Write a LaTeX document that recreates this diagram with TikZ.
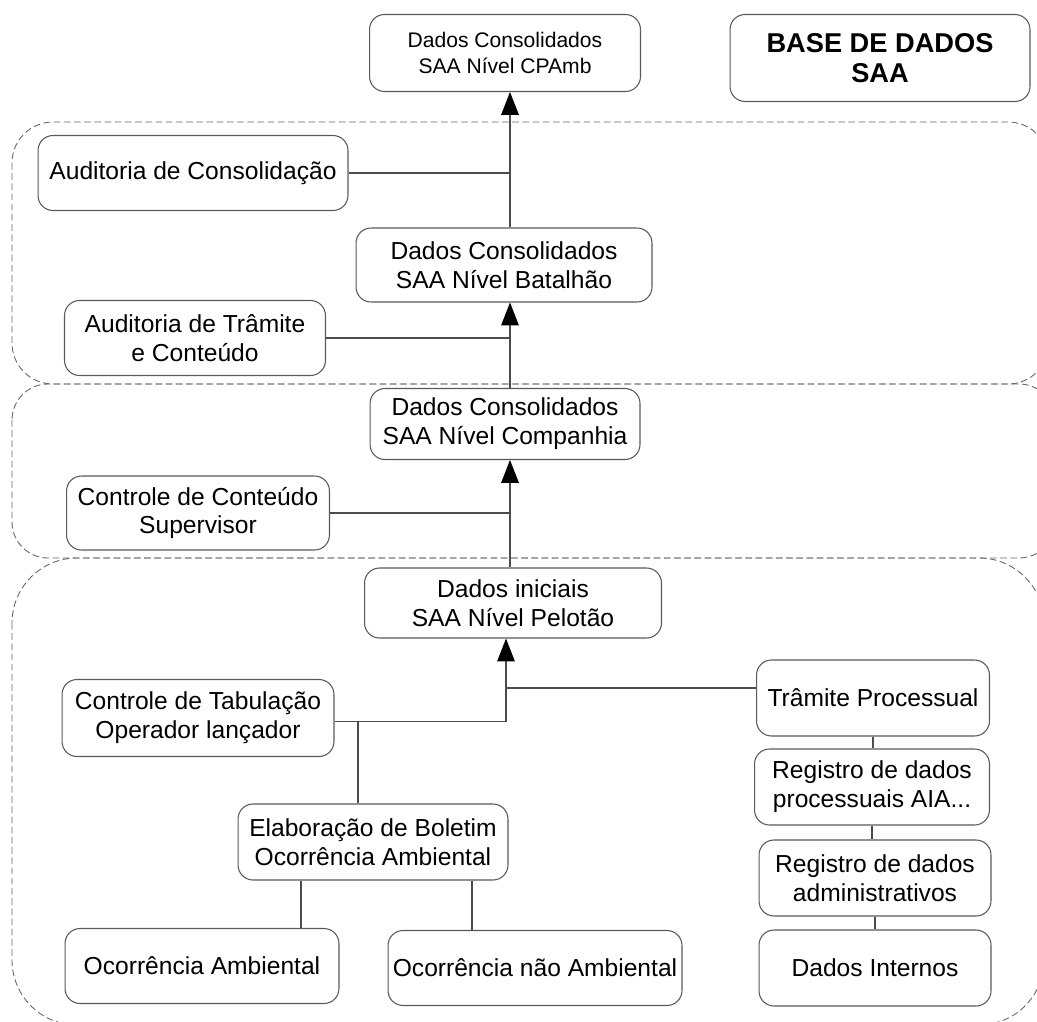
\documentclass[tikz,border=0pt]{standalone}
\usepackage{fontspec}
\setmainfont{Liberation Sans}
\usetikzlibrary{arrows.meta, positioning, calc}

\begin{document}
\begin{tikzpicture}[
    x=0.02cm, y=-0.02cm,
    box/.style={draw=black!65, line width=0.6pt, rounded corners=0.3cm, align=center, inner sep=0pt, font=\fontsize{14}{16.4}\selectfont},
    group/.style={draw=black!60, line width=0.5pt, dash pattern=on 3.8pt off 2pt},
    link/.style={draw=black!70, line width=0.6pt},
    arrow/.style={link, -{Triangle[width=10pt, length=13pt, color=black]}}
]
\useasboundingbox (0,0) rectangle (1037,1021);

% dashed groups
\begin{scope}
\clip (0,0) rectangle (1037,1021);
\draw[group, rounded corners=0.82cm] (12,122) rectangle (1049,384);
\draw[group, rounded corners=0.72cm] (12,384) rectangle (1055,558);
\draw[group, rounded corners=1.3cm] (12,558) rectangle (1044,1025);
\end{scope}

% boxes
\node[box, font=\fontsize{12}{14.7}\selectfont, minimum width=5.42cm, minimum height=1.54cm] (cpamb) at (505,53) {Dados Consolidados\\SAA Nível CPAmb};
\node[box, font=\bfseries\fontsize{15.5}{17}\selectfont, minimum width=6cm, minimum height=1.74cm] (base) at (880,58) {BASE DE DADOS\\SAA};
\node[box, minimum width=6.2cm, minimum height=1.5cm] (audcons) at (193,173) {Auditoria de Consolidação};
\node[box, minimum width=5.92cm, minimum height=1.48cm] (batalhao) at (504,265) {Dados Consolidados\\SAA Nível Batalhão};
\node[box, minimum width=5.22cm, minimum height=1.5cm] (audtram) at (195,338) {Auditoria de Trâmite\\e Conteúdo};
\node[box, minimum width=5.4cm, minimum height=1.42cm] (companhia) at (505,424) {Dados Consolidados\\SAA Nível Companhia};
\node[box, minimum width=5.26cm, minimum height=1.48cm] (ctrlcont) at (198,513) {Controle de Conteúdo\\Supervisor};
\node[box, minimum width=5.94cm, minimum height=1.4cm] (pelotao) at (513,603) {Dados iniciais\\SAA Nível Pelotão};
\node[box, minimum width=5.44cm, minimum height=1.54cm] (ctrltab) at (198,718) {Controle de Tabulação\\Operador lançador};
\node[box, minimum width=4.66cm, minimum height=1.52cm] (tramite) at (873,698) {Trâmite Processual};
\node[box, minimum width=4.7cm, minimum height=1.52cm] (regproc) at (872,787) {Registro de dados\\processuais AIA...};
\node[box, minimum width=4.64cm, minimum height=1.52cm] (regadm) at (875,878) {Registro de dados\\administrativos};
\node[box, minimum width=5.4cm, minimum height=1.52cm] (elab) at (373,842) {Elaboração de Boletim\\Ocorrência Ambiental};
\node[box, minimum width=5.48cm, minimum height=1.5cm] (ocamb) at (202,966) {Ocorrência Ambiental};
\node[box, minimum width=5.88cm, minimum height=1.5cm] (ocnao) at (535,968) {Ocorrência não Ambiental};
\node[box, minimum width=4.64cm, minimum height=1.52cm] (internos) at (875,968) {Dados Internos};

% connectors
\coordinate (spine) at (510,0);
\coordinate (spinelow) at (506,0);
\coordinate (tabjoin) at ([yshift=-0.07cm]ctrltab.east);
\coordinate (tramjoin) at ([yshift=0.2cm]tramite.west);
\coordinate (elabtop) at ([xshift=-0.3cm]elab.north);
\coordinate (elabl) at ([xshift=-1.44cm]elab.south);
\coordinate (elabr) at ([xshift=1.98cm]elab.south);

\draw[arrow] (batalhao.north -| spine) -- (cpamb.south -| spine);
\draw[link] (audcons.east) -- (audcons.east -| spine);
\draw[arrow] (companhia.north -| spine) -- (batalhao.south -| spine);
\draw[link] (audtram.east) -- (audtram.east -| spine);
\draw[arrow] (pelotao.north -| spine) -- (companhia.south -| spine);
\draw[link] (ctrlcont.east) -- (ctrlcont.east -| spine);
\draw[arrow] (tabjoin) -| (pelotao.south -| spinelow);
\draw[link] (tramjoin) -- (tramjoin -| spinelow);
\draw[link] (elabtop) -- (elabtop |- tabjoin);
\draw[link] (elabl) -- (elabl |- ocamb.north);
\draw[link] (elabr) -- (elabr |- ocnao.north);
\draw[link] (tramite.south) -- (tramite.south |- regproc.north);
\draw[link] (regproc.south) -- (regproc.south |- regadm.north);
\draw[link] (regadm.south) -- (regadm.south |- internos.north);
\end{tikzpicture}
\end{document}
